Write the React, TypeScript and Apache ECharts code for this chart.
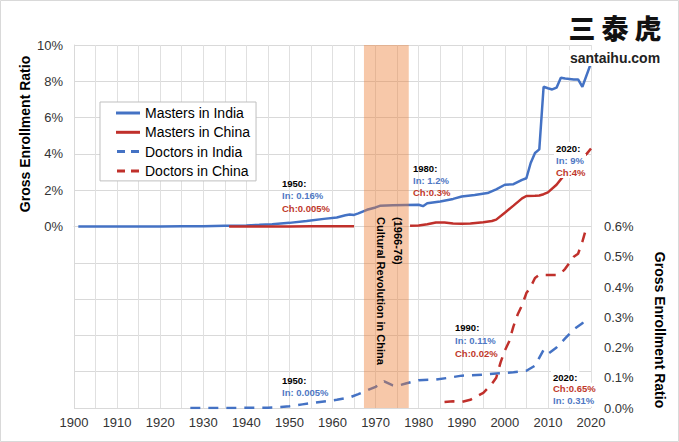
import React, { useEffect, useRef } from 'react';
import * as echarts from 'echarts';

// Gross enrollment ratio (%), [year, value]
const mastersIndia: [number, number][] = [
  [1901, 0], [1910, 0], [1920, 0], [1925, 0.01], [1930, 0.02], [1935, 0.04], [1940, 0.06],
  [1943, 0.09], [1946, 0.13], [1950, 0.2], [1954, 0.3], [1958, 0.42], [1961, 0.5], [1963, 0.62],
  [1964, 0.66], [1965, 0.64], [1966, 0.72], [1968, 0.92], [1970, 1.05], [1971, 1.14], [1974, 1.17],
  [1977, 1.19], [1980, 1.2], [1981, 1.12], [1982, 1.28], [1985, 1.38], [1988, 1.52], [1990, 1.65],
  [1993, 1.74], [1996, 1.84], [1998, 2.05], [2000, 2.3], [2002, 2.33], [2004, 2.57], [2005, 2.66],
  [2006, 3.5], [2007, 4.05], [2008, 4.25], [2009, 7.7], [2010, 7.62], [2011, 7.55], [2012, 7.65],
  [2013, 8.2], [2014, 8.15], [2016, 8.1], [2017, 8.1], [2018, 7.7], [2020, 9.0],
];
const mastersChina: [number, number | null][] = [
  [1936, 0], [1945, 0], [1950, 0.005], [1955, 0.01], [1965, 0.01], [1966, null],
  [1978, 0.04], [1980, 0.05], [1982, 0.12], [1984, 0.22], [1986, 0.22], [1988, 0.17], [1990, 0.15],
  [1992, 0.17], [1995, 0.24], [1997, 0.3], [1998, 0.38], [2000, 0.76], [2002, 1.15], [2004, 1.55],
  [2005, 1.68], [2007, 1.69], [2008, 1.71], [2009, 1.78], [2010, 1.88], [2012, 2.3], [2014, 2.9],
  [2016, 3.6], [2017, 3.68], [2018, 3.78], [2019, 4.0], [2020, 4.3],
];
const doctorsIndia: [number, number][] = [
  [1927, 0], [1935, 0], [1945, 0.001], [1948, 0.003], [1950, 0.006], [1953, 0.012], [1956, 0.018],
  [1961, 0.027], [1964, 0.035], [1966, 0.046], [1968, 0.058], [1970, 0.07], [1972, 0.088],
  [1974, 0.075], [1975, 0.073], [1977, 0.081], [1980, 0.092], [1984, 0.094], [1987, 0.1],
  [1990, 0.107], [1995, 0.11], [1998, 0.114], [2002, 0.118], [2005, 0.123], [2007, 0.14],
  [2009, 0.192], [2010, 0.179], [2012, 0.2], [2014, 0.23], [2016, 0.26], [2018, 0.28], [2019, 0.3],
];
const doctorsChina: [number, number][] = [
  [1986, 0.02], [1988, 0.022], [1990, 0.02], [1992, 0.027], [1995, 0.05], [1997, 0.08], [1998, 0.1],
  [1999, 0.15], [2000, 0.19], [2001, 0.22], [2002, 0.27], [2003, 0.31], [2004, 0.34], [2005, 0.38],
  [2006, 0.4], [2007, 0.43], [2008, 0.44], [2010, 0.44], [2012, 0.44], [2013, 0.445], [2014, 0.46],
  [2015, 0.48], [2016, 0.5], [2017, 0.51], [2018, 0.55], [2019, 0.6],
];
const culturalRevolution: [number, number] = [1967.3, 1977.7];
const seriesNames = ['Masters in India', 'Masters in China', 'Doctors in India', 'Doctors in China'];

const BLUE = '#4472C4';
const RED = '#C0302B';
const TXT_BLUE = '#4F78C4';
const TXT_RED = '#C0392B';
const FONT = 'Liberation Sans, Arial, sans-serif';
const SOLID_ICON = 'path://M0,0h24v3H0z';
const DASH_ICON = 'path://M1,0h8v3H1zM15,0h8v3H15z';

function ann(x: number, y: number, gap: number, lines: [string, string][], bg?: string) {
  return lines.map(([t, c], i) => ({
    type: 'text',
    x,
    y: y + i * gap,
    z: 20,
    style: {
      text: t,
      fill: c,
      fontSize: 9.5,
      fontWeight: 'bold',
      fontFamily: FONT,
      align: 'left',
      verticalAlign: 'middle',
      backgroundColor: bg,
      padding: bg ? [1, 2, 1, 2] : 0,
    },
  }));
}

export default function App() {
  const ref = useRef<HTMLDivElement>(null);
  useEffect(() => {
    document.body.style.margin = '0';
    const chart = echarts.init(ref.current!, null, { renderer: 'svg' });
    const option: any = {
      animation: false,
      backgroundColor: '#fff',
      grid: { left: 74, right: 88, top: 45, bottom: 34 },
      legend: {
        data: [
          { name: seriesNames[0], icon: SOLID_ICON },
          { name: seriesNames[1], icon: SOLID_ICON },
          { name: seriesNames[2], icon: DASH_ICON },
          { name: seriesNames[3], icon: DASH_ICON },
        ],
        orient: 'vertical',
        left: 100,
        top: 102,
        padding: [4, 6, 3, 16],
        itemWidth: 24,
        itemHeight: 3,
        itemGap: 5.3,
        backgroundColor: '#fff',
        borderColor: '#BFBFBF',
        borderWidth: 1,
        itemStyle: { borderWidth: 0 },
        textStyle: { fontSize: 14, color: '#000', fontFamily: FONT },
      },
      xAxis: {
        type: 'value',
        min: 1900,
        max: 2020,
        interval: 5,
        axisLine: { show: true, lineStyle: { color: '#D9D9D9' } },
        axisTick: { show: false },
        axisLabel: {
          formatter: (v: number) => (v % 10 === 0 ? String(v) : ''),
          color: '#333',
          fontSize: 13,
          fontFamily: FONT,
          margin: 8,
          showMinLabel: true,
          showMaxLabel: true,
        },
        splitLine: { show: true, lineStyle: { color: '#E0E0E0', width: 1 } },
      },
      yAxis: [
        {
          type: 'value',
          min: -10,
          max: 10,
          interval: 2,
          position: 'left',
          axisLine: { show: true, lineStyle: { color: '#D9D9D9' } },
          axisTick: { show: false },
          axisLabel: {
            formatter: (v: number) => (v >= 0 ? Math.round(v) + '%' : ''),
            color: '#333',
            fontSize: 13,
            fontFamily: FONT,
            margin: 11,
          },
          splitLine: { show: true, lineStyle: { color: '#D9D9D9', width: 1 } },
        },
        {
          type: 'value',
          min: 0,
          max: 1.2,
          interval: 0.1,
          position: 'right',
          axisLine: { show: false },
          axisTick: { show: false },
          axisLabel: {
            formatter: (v: number) => (v <= 0.6001 ? v.toFixed(1) + '%' : ''),
            color: '#333',
            fontSize: 13,
            fontFamily: FONT,
            margin: 13,
          },
          splitLine: { show: false },
        },
      ],
      series: [
        {
          name: seriesNames[0], type: 'line', data: mastersIndia, yAxisIndex: 0, symbol: 'none',
          lineStyle: { color: BLUE, width: 2.5 }, itemStyle: { color: BLUE }, z: 3,
        },
        {
          name: seriesNames[1], type: 'line', data: mastersChina, yAxisIndex: 0, symbol: 'none',
          lineStyle: { color: RED, width: 2.5 }, itemStyle: { color: RED }, z: 3,
        },
        {
          name: seriesNames[2], type: 'line', data: doctorsIndia, yAxisIndex: 1, symbol: 'none',
          lineStyle: { color: BLUE, width: 2.5, type: [10, 8] }, itemStyle: { color: BLUE }, z: 3,
        },
        {
          name: seriesNames[3], type: 'line', data: doctorsChina, yAxisIndex: 1, symbol: 'none',
          lineStyle: { color: RED, width: 2.5, type: [10, 8] }, itemStyle: { color: RED }, z: 3,
        },
        {
          name: 'band', type: 'line', data: [], yAxisIndex: 0, symbol: 'none', z: 10, silent: true,
          markArea: {
            silent: true,
            z: 10,
            itemStyle: { color: 'rgba(237,125,49,0.42)' },
            data: [[{ xAxis: culturalRevolution[0] }, { xAxis: culturalRevolution[1] }]],
          },
        },
      ],
      graphic: [
        {
          type: 'rect', shape: { x: 0.5, y: 0.5, width: 678, height: 441 },
          style: { fill: 'none', stroke: '#D9D9D9', lineWidth: 1 }, z: 0, silent: true,
        },
        {
          type: 'text', x: 25, y: 134, rotation: Math.PI / 2, z: 20,
          style: { text: 'Gross Enrollment Ratio', fontSize: 14, fontWeight: 'bold', fontFamily: FONT, fill: '#000', align: 'center', verticalAlign: 'middle' },
        },
        {
          type: 'text', x: 660, y: 330, rotation: -Math.PI / 2, z: 20,
          style: { text: 'Gross Enrollment Ratio', fontSize: 14, fontWeight: 'bold', fontFamily: FONT, fill: '#000', align: 'center', verticalAlign: 'middle' },
        },
        {
          type: 'text', x: 389.5, y: 217, rotation: -Math.PI / 2, z: 20,
          style: { text: '(1966-76)\nCultural Revolution in China', fontSize: 11, fontWeight: 'bold', fontFamily: FONT, fill: '#000', align: 'left', verticalAlign: 'middle', lineHeight: 17 },
        },
        ...['三', '泰', '虎'].map((ch, i) => ({
          type: 'text', x: 582 + i * 33, y: 27, z: 20,
          style: { text: ch, fontSize: 27, fontWeight: 900, fontFamily: 'Noto Sans CJK SC', fill: '#111', align: 'center', verticalAlign: 'middle' },
        })),
        {
          type: 'text', x: 615, y: 58, z: 20,
          style: { text: 'santaihu.com', fontSize: 14, fontWeight: 'bold', fontFamily: FONT, fill: '#222', align: 'center', verticalAlign: 'middle', backgroundColor: '#fff', padding: [1, 2, 1, 2] },
        },
        ...ann(282, 183, 12.5, [['1950:', '#000'], ['In: 0.16%', TXT_BLUE], ['Ch:0.005%', TXT_RED]]),
        ...ann(413, 168, 12.3, [['1980:', '#000'], ['In: 1.2%', TXT_BLUE], ['Ch:0.3%', TXT_RED]]),
        ...ann(554, 148, 12, [['2020:', '#000'], ['In: 9%', TXT_BLUE], ['Ch:4%', TXT_RED]], '#fff'),
        ...ann(282, 380, 12, [['1950:', '#000'], ['In: 0.005%', TXT_BLUE]]),
        ...ann(455, 327, 13, [['1990:', '#000'], ['In: 0.11%', TXT_BLUE], ['Ch:0.02%', TXT_RED]]),
        ...ann(551, 377, 11.7, [['2020:', '#000'], ['Ch:0.65%', TXT_RED], ['In: 0.31%', TXT_BLUE]], '#fff'),
      ],
    };
    chart.setOption(option);
    return () => chart.dispose();
  }, []);
  return <div ref={ref} style={{ width: 679, height: 442, position: 'absolute', left: 0, top: 0 }} />;
}
